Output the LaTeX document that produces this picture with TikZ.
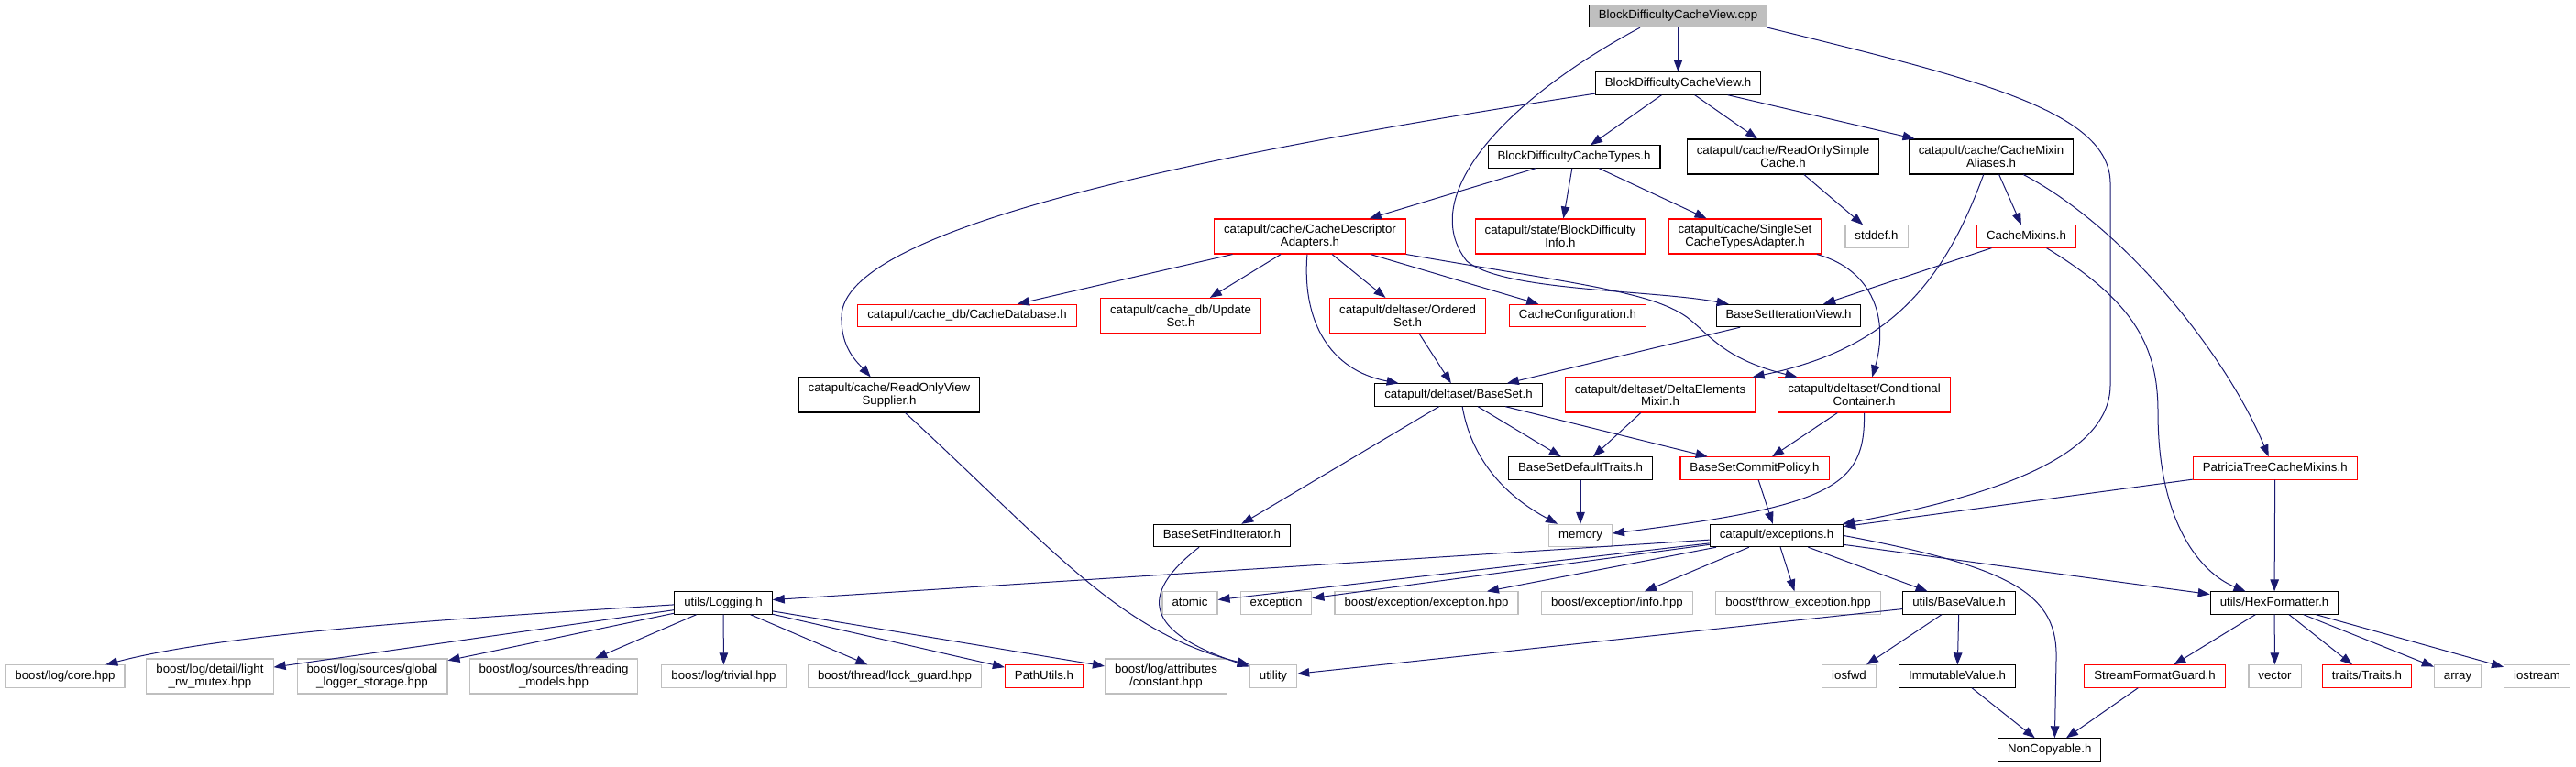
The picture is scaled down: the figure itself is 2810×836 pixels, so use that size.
\documentclass[tikz,border=0pt]{standalone}
\usepackage{fontspec}
\usepackage{tikz}
\usetikzlibrary{
    arrows.meta
}
\newfontfamily\dgfam{Liberation Sans}
\newcommand{\dgfont}{\dgfam\fontsize{13.25}{13.6}\selectfont}
\definecolor{edgeblue}{HTML}{191970}
\definecolor{sysgray}{HTML}{BFBFBF}
\definecolor{rootgray}{HTML}{BFBFBF}
\tikzset{
  hfile/.style    = {draw, fill=white, line width=1.1pt, font=\dgfont,
                     inner xsep=10.5pt, inner ysep=0pt, minimum height=24.3pt,
                     text height=9.6pt, text depth=2.8pt},
  hfile2/.style   = {draw, fill=white, line width=1.1pt, font=\dgfont,
                     inner xsep=10.5pt, inner ysep=0pt, minimum height=38pt,
                     align=center},
  trunc/.style    = {draw=red},
  sysh/.style     = {draw=sysgray},
  rootfile/.style = {fill=rootgray},
  dep/.style      = {-{Triangle[length=13pt,width=9.5pt]}, edgeblue,
                     line width=1pt}
}

\begin{document}
\begin{tikzpicture}[x=1pt, y=-1pt]
    \useasboundingbox (0,0) rectangle (2810,836);

    % top rows
    \node[hfile, rootfile] (cpp) at (1830.5,17.5) {BlockDifficultyCacheView.cpp};
    \node[hfile] (cvh) at (1830.5,91) {BlockDifficultyCacheView.h};
    \node[hfile] (bdct) at (1717,171) {BlockDifficultyCacheTypes.h};
    \node[hfile2] (rosc) at (1945,171) {catapult/cache/ReadOnlySimple\\Cache.h};
    \node[hfile2] (cma) at (2172,171) {catapult/cache/CacheMixin\\Aliases.h};

    \node[hfile2, trunc] (cda) at (1429,258) {catapult/cache/CacheDescriptor\\Adapters.h};
    \node[hfile2, trunc] (bdi) at (1702,258) {catapult/state/BlockDifficulty\\Info.h};
    \node[hfile2, trunc] (ssa) at (1903.5,258) {catapult/cache/SingleSet\\CacheTypesAdapter.h};
    \node[hfile, sysh] (stddef) at (2047,258) {stddef.h};
    \node[hfile, trunc] (mixins) at (2210.5,258) {CacheMixins.h};

    \node[hfile, trunc] (cachedb) at (1055,344.5) {catapult/cache\_db/CacheDatabase.h};
    \node[hfile2, trunc] (updset) at (1288,344.5) {catapult/cache\_db/Update\\Set.h};
    \node[hfile2, trunc] (ordset) at (1535.5,344.5) {catapult/deltaset/Ordered\\Set.h};
    \node[hfile, trunc] (cconf) at (1721,344.5) {CacheConfiguration.h};
    \node[hfile] (bsiv) at (1951,344.5) {BaseSetIterationView.h};

    % deltaset rows
    \node[hfile2] (rovs) at (970,431) {catapult/cache/ReadOnlyView\\Supplier.h};
    \node[hfile] (baseset) at (1591,431) {catapult/deltaset/BaseSet.h};
    \node[hfile2, trunc] (dem) at (1811,431) {catapult/deltaset/DeltaElements\\Mixin.h};
    \node[hfile2, trunc] (ccont) at (2033.5,431) {catapult/deltaset/Conditional\\Container.h};

    \node[hfile] (bsdt) at (1724,511) {BaseSetDefaultTraits.h};
    \node[hfile, trunc] (bscp) at (1914,511) {BaseSetCommitPolicy.h};
    \node[hfile, trunc] (ptcm) at (2481.7,511) {PatriciaTreeCacheMixins.h};

    \node[hfile] (bsfi) at (1333,584.5) {BaseSetFindIterator.h};
    \node[hfile, sysh] (memory) at (1724,584.5) {memory};
    \node[hfile] (exc) at (1938,584.5) {catapult/exceptions.h};

    % utils row
    \node[hfile] (logging) at (789,658) {utils/Logging.h};
    \node[hfile, sysh] (atomic) at (1298,658) {atomic};
    \node[hfile, sysh] (exception) at (1392,658) {exception};
    \node[hfile, sysh] (bexc) at (1556,658) {boost/exception/exception.hpp};
    \node[hfile, sysh] (binfo) at (1764,658) {boost/exception/info.hpp};
    \node[hfile, sysh] (bthrow) at (1961.5,658) {boost/throw\_exception.hpp};
    \node[hfile] (basevalue) at (2137,658) {utils/BaseValue.h};
    \node[hfile] (hexf) at (2481,658) {utils/HexFormatter.h};

    % leaves
    \node[hfile, sysh] (core) at (71,738) {boost/log/core.hpp};
    \node[hfile2, sysh] (lightrw) at (229,738) {boost/log/detail/light\\\_rw\_mutex.hpp};
    \node[hfile2, sysh] (global) at (406,738) {boost/log/sources/global\\\_logger\_storage.hpp};
    \node[hfile2, sysh] (threading) at (604,738) {boost/log/sources/threading\\\_models.hpp};
    \node[hfile, sysh] (trivial) at (789.5,738) {boost/log/trivial.hpp};
    \node[hfile, sysh] (lockguard) at (976,738) {boost/thread/lock\_guard.hpp};
    \node[hfile, trunc] (pathutils) at (1139,738) {PathUtils.h};
    \node[hfile2, sysh] (constant) at (1272,738) {boost/log/attributes\\/constant.hpp};
    \node[hfile, sysh] (utility) at (1389,738) {utility};
    \node[hfile, sysh] (iosfwd) at (2017,738) {iosfwd};
    \node[hfile] (immutable) at (2135,738) {ImmutableValue.h};
    \node[hfile, trunc] (sfg) at (2350.5,738) {StreamFormatGuard.h};
    \node[hfile, sysh] (vector) at (2481.5,738) {vector};
    \node[hfile, trunc] (traits) at (2582,738) {traits/Traits.h};
    \node[hfile, sysh] (array) at (2681,738) {array};
    \node[hfile, sysh] (iostream) at (2767.5,738) {iostream};

    \node[hfile] (noncopy) at (2235.7,818) {NonCopyable.h};

    % straight includes
    \foreach \a/\b in {cpp/cvh, cvh/bdct, cvh/rosc, cvh/cma, bdct/cda, bdct/bdi,
                       bdct/ssa, rosc/stddef, cma/mixins, mixins/bsiv, cda/cachedb,
                       cda/updset, cda/ordset, cda/cconf, ordset/baseset,
                       bsiv/baseset, baseset/bsfi, baseset/bsdt, baseset/bscp,
                       dem/bsdt, ccont/bscp, bsdt/memory, bscp/exc, ptcm/exc,
                       ptcm/hexf}
      \draw[dep] (\a) -- (\b);

    \foreach \a/\b in {exc/logging, exc/atomic, exc/exception, exc/bexc, exc/binfo,
                       exc/bthrow, exc/basevalue, exc/hexf, logging/lightrw,
                       logging/global, logging/threading, logging/trivial,
                       logging/lockguard, logging/pathutils, logging/constant,
                       basevalue/utility, basevalue/iosfwd, basevalue/immutable,
                       immutable/noncopy, sfg/noncopy, hexf/sfg, hexf/vector,
                       hexf/traits, hexf/array, hexf/iostream}
      \draw[dep] (\a) -- (\b);

    % curved includes
    \draw[dep] (cpp.197) .. controls (1640,110) and (1545,215) .. (1600,285)
               .. controls (1640,318) and (1800,316) .. (bsiv.169);
    \draw[dep] (cpp.south east) .. controls (2150,85) and (2302,120) .. (2302,200)
               -- (2302,420) .. controls (2302,490) and (2200,537) .. (exc.10);
    \draw[dep] (cvh.187) .. controls (1300,170) and (920,250) .. (918,345)
               .. controls (917,380) and (935,395) .. (rovs.136);
    \draw[dep] (cma.247) .. controls (2120,310) and (2060,381) .. (dem.11);
    \draw[dep] (cma.-29) .. controls (2320,250) and (2430,390) .. (ptcm.119);
    \draw[dep] (mixins.-30) .. controls (2330,330) and (2354,380) .. (2354,450)
               .. controls (2354,570) and (2400,625) .. (hexf.158);
    \draw[dep] (ssa.-14) .. controls (2045,295) and (2060,350) .. (ccont.66);
    \draw[dep] (cda.261) .. controls (1420,350) and (1450,404) .. (baseset.169);
    \draw[dep] (cda.south east) .. controls (1720,310) and (1800,318) .. (1840,346)
               .. controls (1865,365) and (1880,392) .. (ccont.165);
    \draw[dep] (rovs.-48) .. controls (1150,600) and (1220,690) .. (utility.north west);
    \draw[dep] (baseset.-72) .. controls (1605,500) and (1640,540) .. (memory.153);
    \draw[dep] (ccont.south) .. controls (2035,530) and (2000,552) .. (memory.4);
    \draw[dep] (bsfi.207) .. controls (1240,650) and (1250,690) .. (utility.158);
    \draw[dep] (exc.east) .. controls (2200,620) and (2245,650) .. (2243,720)
               -- (noncopy.66);
    \draw[dep] (logging.182) .. controls (500,675) and (250,690) .. (core.16);
\end{tikzpicture}
\end{document}
